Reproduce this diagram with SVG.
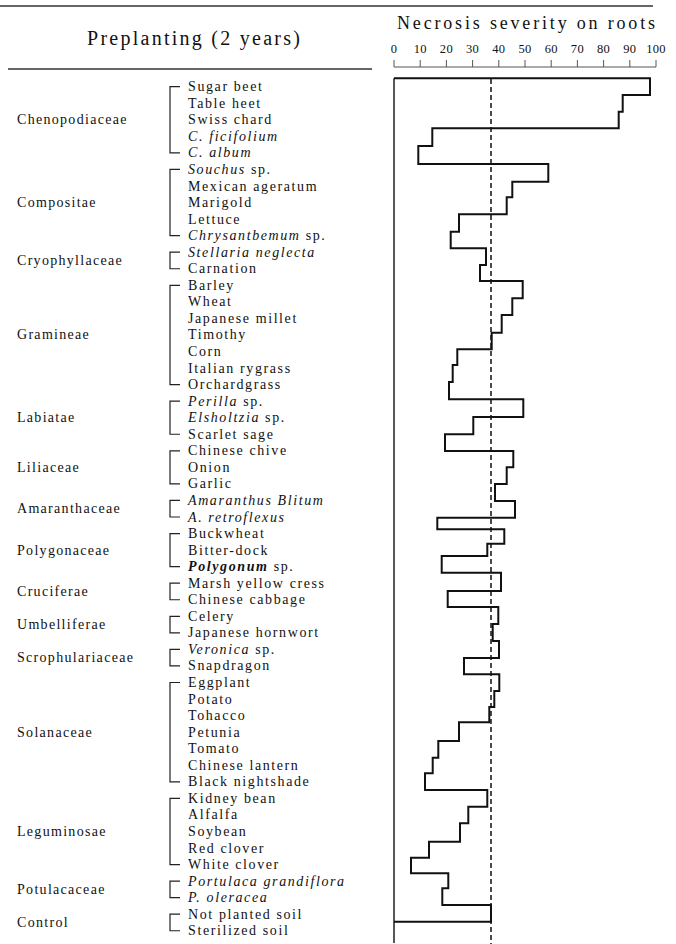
<svg xmlns="http://www.w3.org/2000/svg" width="676" height="944" viewBox="0 0 676 944">
<style>
text{font-family:"Liberation Serif","Times New Roman",serif;fill:#111}
.it{font-size:14px;letter-spacing:1.6px}
.fam{font-size:14px;letter-spacing:1.3px}
.tk{font-size:12.5px;text-anchor:middle;letter-spacing:0.3px}
.i{font-style:italic}
.bi{font-style:italic;font-weight:bold}
.br{fill:none;stroke:#222;stroke-width:1.2}
.rule{stroke:#333;stroke-width:1.4}
.ax{stroke:#555;stroke-width:1;fill:none}
</style>
<rect width="676" height="944" fill="#fff"/>
<g id="header">
<line class="rule" x1="0" y1="6" x2="653" y2="6"/>
<line class="rule" x1="8" y1="69" x2="372" y2="69"/>
<text x="87" y="45" font-size="20" textLength="213" lengthAdjust="spacing">Preplanting (2 years)</text>
<text x="397" y="29" font-size="18" textLength="258" lengthAdjust="spacing">Necrosis severity on roots</text>
</g>
<g id="axis">
<path class="ax" d="M394 67H656M394 60V67M420.2 60V67M446.4 60V67M472.6 60V67M498.8 60V67M525 60V67M551.2 60V67M577.4 60V67M603.6 60V67M629.8 60V67M656 60V67"/>
<g class="tk">
<text x="394" y="53">0</text><text x="420.2" y="53">10</text><text x="446.4" y="53">20</text><text x="472.6" y="53">30</text><text x="498.8" y="53">40</text><text x="525" y="53">50</text><text x="551.2" y="53">60</text><text x="577.4" y="53">70</text><text x="603.6" y="53">80</text><text x="629.8" y="53">90</text><text x="656" y="53">100</text>
</g>
</g>
<g id="chart">
<line x1="394" y1="78.3" x2="394" y2="943" stroke="#111" stroke-width="1.4"/>
<line x1="491" y1="79" x2="491" y2="944" stroke="#111" stroke-width="1.5" stroke-dasharray="5 3"/>
<path fill="none" stroke="#111" stroke-width="2" stroke-linejoin="miter" d="M394 78.3H650V95H622.7V111.7H618.7V128.3H432.3V146H418.3V164H548.3V181.7H512.3V197.3H506.7V214.3H459V231.7H450.7V248.3H486V265H480V281H522.7V298.3H512.3V315H501.7V332.7H491.7V349.3H457.3V365H452.7V382H449V399.3H523.3V417H473.3V434.3H445V451H513.3V467.3H506.7V484H495V501H515V517.7H437.3V529.3H504.3V543.7H487.3V556H441.7V572.7H501V591H447.7V607H498.3V624H492.7V641H499V658H464V674.3H499.3V691H494.3V707H489.3V722.3H459V741H438.3V757.7H432.7V773.3H425V790H487.3V806.7H468.3V823.3H460V841.7H429V857.7H411V873.3H448.3V888.3H442.3V905H491V921.7H394"/>
</g>
<g id="chenopodiaceae">
<text class="fam" x="17" y="124.3">Chenopodiaceae</text>
<path class="br" d="M180 86.7H170V152.9H180"/>
<g class="it">
<text x="188" y="91.2">Sugar beet</text>
<text x="188" y="107.75">Table heet</text>
<text x="188" y="124.3">Swiss chard</text>
<text x="188" y="140.85" class="i">C. ficifolium</text>
<text x="188" y="157.4" class="i">C. album</text>
</g>
</g>
<g id="compositae">
<text class="fam" x="17" y="207.05">Compositae</text>
<path class="br" d="M180 169.45H170V235.65H180"/>
<g class="it">
<text x="188" y="173.95"><tspan class="i">Souchus</tspan> sp.</text>
<text x="188" y="190.5">Mexican ageratum</text>
<text x="188" y="207.05">Marigold</text>
<text x="188" y="223.6">Lettuce</text>
<text x="188" y="240.15"><tspan class="i">Chrysantbemum</tspan> sp.</text>
</g>
</g>
<g id="cryophyllaceae">
<text class="fam" x="17" y="265">Cryophyllaceae</text>
<path class="br" d="M180 252.2H170V268.75H180"/>
<g class="it">
<text x="188" y="256.7" class="i">Stellaria neglecta</text>
<text x="188" y="273.25">Carnation</text>
</g>
</g>
<g id="gramineae">
<text class="fam" x="17" y="339.45">Gramineae</text>
<path class="br" d="M180 285.3H170V384.6H180"/>
<g class="it">
<text x="188" y="289.8">Barley</text>
<text x="188" y="306.35">Wheat</text>
<text x="188" y="322.9">Japanese millet</text>
<text x="188" y="339.45">Timothy</text>
<text x="188" y="356">Corn</text>
<text x="188" y="372.55">Italian rygrass</text>
<text x="188" y="389.1">Orchardgrass</text>
</g>
</g>
<g id="labiatae">
<text class="fam" x="17" y="422.2">Labiatae</text>
<path class="br" d="M180 401.15H170V434.25H180"/>
<g class="it">
<text x="188" y="405.65"><tspan class="i">Perilla</tspan> sp.</text>
<text x="188" y="422.2"><tspan class="i">Elsholtzia</tspan> sp.</text>
<text x="188" y="438.75">Scarlet sage</text>
</g>
</g>
<g id="liliaceae">
<text class="fam" x="17" y="471.85">Liliaceae</text>
<path class="br" d="M180 450.8H170V483.9H180"/>
<g class="it">
<text x="188" y="455.3">Chinese chive</text>
<text x="188" y="471.85">Onion</text>
<text x="188" y="488.4">Garlic</text>
</g>
</g>
<g id="amaranthaceae">
<text class="fam" x="17" y="513.2">Amaranthaceae</text>
<path class="br" d="M180 500.45H170V517H180"/>
<g class="it">
<text x="188" y="504.95" class="i">Amaranthus Blitum</text>
<text x="188" y="521.5" class="i">A. retroflexus</text>
</g>
</g>
<g id="polygonaceae">
<text class="fam" x="17" y="554.6">Polygonaceae</text>
<path class="br" d="M180 533.55H170V566.65H180"/>
<g class="it">
<text x="188" y="538.05">Buckwheat</text>
<text x="188" y="554.6">Bitter-dock</text>
<text x="188" y="571.15"><tspan class="bi">Polygonum</tspan> sp.</text>
</g>
</g>
<g id="cruciferae">
<text class="fam" x="17" y="596">Cruciferae</text>
<path class="br" d="M180 583.2H170V599.75H180"/>
<g class="it">
<text x="188" y="587.7">Marsh yellow cress</text>
<text x="188" y="604.25">Chinese cabbage</text>
</g>
</g>
<g id="umbelliferae">
<text class="fam" x="17" y="629.1">Umbelliferae</text>
<path class="br" d="M180 616.3H170V632.85H180"/>
<g class="it">
<text x="188" y="620.8">Celery</text>
<text x="188" y="637.35">Japanese hornwort</text>
</g>
</g>
<g id="scrophulariaceae">
<text class="fam" x="17" y="662.2">Scrophulariaceae</text>
<path class="br" d="M180 649.4H170V665.95H180"/>
<g class="it">
<text x="188" y="653.9"><tspan class="i">Veronica</tspan> sp.</text>
<text x="188" y="670.45">Snapdragon</text>
</g>
</g>
<g id="solanaceae">
<text class="fam" x="17" y="736.65">Solanaceae</text>
<path class="br" d="M180 682.5H170V781.8H180"/>
<g class="it">
<text x="188" y="687">Eggplant</text>
<text x="188" y="703.55">Potato</text>
<text x="188" y="720.1">Tohacco</text>
<text x="188" y="736.65">Petunia</text>
<text x="188" y="753.2">Tomato</text>
<text x="188" y="769.75">Chinese lantern</text>
<text x="188" y="786.3">Black nightshade</text>
</g>
</g>
<g id="leguminosae">
<text class="fam" x="17" y="835.95">Leguminosae</text>
<path class="br" d="M180 798.35H170V864.55H180"/>
<g class="it">
<text x="188" y="802.85">Kidney bean</text>
<text x="188" y="819.4">Alfalfa</text>
<text x="188" y="835.95">Soybean</text>
<text x="188" y="852.5">Red clover</text>
<text x="188" y="869.05">White clover</text>
</g>
</g>
<g id="potulacaceae">
<text class="fam" x="17" y="893.9">Potulacaceae</text>
<path class="br" d="M180 881.1H170V897.65H180"/>
<g class="it">
<text x="188" y="885.6" class="i">Portulaca grandiflora</text>
<text x="188" y="902.15" class="i">P. oleracea</text>
</g>
</g>
<g id="control">
<text class="fam" x="17" y="927">Control</text>
<path class="br" d="M180 914.2H170V930.75H180"/>
<g class="it">
<text x="188" y="918.7">Not planted soil</text>
<text x="188" y="935.25">Sterilized soil</text>
</g>
</g>
</svg>
